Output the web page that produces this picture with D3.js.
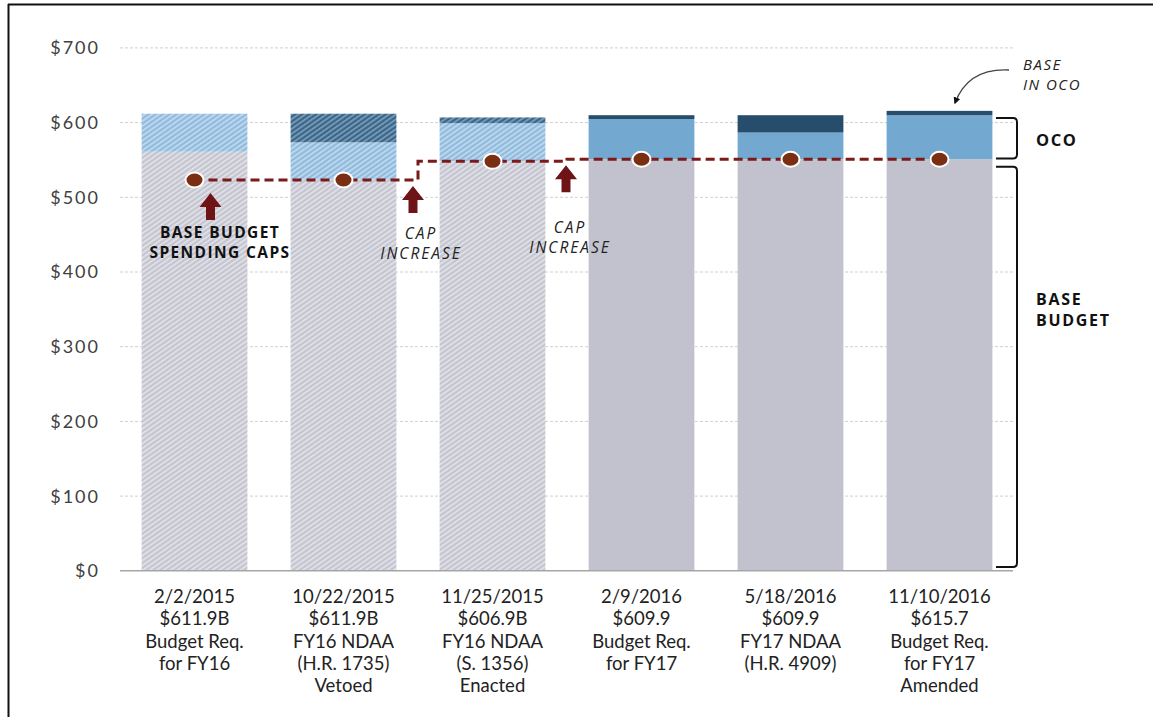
<!DOCTYPE html>
<html>
<head>
<meta charset="utf-8">
<script src="https://cdn.jsdelivr.net/npm/d3@7"></script>
<style>
  body { margin: 0; background: #fff; }
  svg { display: block; }
</style>
</head>
<body>
<div id="chart"></div>
<script>
// data (billions of dollars)
var dates = ["2/2/2015", "10/22/2015", "11/25/2015", "2/9/2016", "5/18/2016", "11/10/2016"];
var totalLabels = ["$611.9B", "$611.9B", "$606.9B", "$609.9", "$609.9", "$615.7"];
var line3 = ["Budget Req.", "FY16 NDAA", "FY16 NDAA", "Budget Req.", "FY17 NDAA", "Budget Req."];
var line4 = ["for FY16", "(H.R. 1735)", "(S. 1356)", "for FY17", "(H.R. 4909)", "for FY17"];
var line5 = ["", "Vetoed", "Enacted", "", "", "Amended"];
var baseValues = [561.0, 523.6, 548.1, 551.0, 551.0, 551.0];
var ocoValues = [50.9, 50.0, 51.1, 53.7, 35.7, 58.8];
var baseInOcoValues = [0, 38.3, 7.7, 5.2, 23.2, 5.9];
var capValues = [523.1, 523.1, 548.1, 551.0, 551.0, 551.0];
var hatched = [true, true, true, false, false, false];
var yTicks = [0, 100, 200, 300, 400, 500, 600, 700];

var W = 1153, H = 717;
var fontFam = "Lato, 'Open Sans', sans-serif";
var annFam = "'Open Sans', sans-serif";

var svg = d3.select("#chart").append("svg")
  .attr("width", W)
  .attr("height", H);

// hatch patterns
var defs = svg.append("defs");
function hatch(id, bg, fg) {
  var p = defs.append("pattern")
    .attr("id", id)
    .attr("patternUnits", "userSpaceOnUse")
    .attr("width", 4).attr("height", 4)
    .attr("patternTransform", "rotate(-35)");
  p.append("rect").attr("width", 4).attr("height", 4).attr("fill", bg);
  p.append("rect").attr("width", 4).attr("height", 1.6).attr("fill", fg);
}
hatch("hGray", "#c4c5d0", "#e4e4ea");
hatch("hBlue", "#8fbbdf", "#c6dcef");
hatch("hDark", "#3b6688", "#7fa2bf");

var solid = { base: "#c2c2ce", oco: "#73a8d0", baseInOco: "#264d6c" };
var hatchFill = { base: "url(#hGray)", oco: "url(#hBlue)", baseInOco: "url(#hDark)" };

// frame
svg.append("line").attr("x1", 8).attr("x2", W).attr("y1", 4.5).attr("y2", 4.5)
  .attr("stroke", "#111").attr("stroke-width", 2);
svg.append("line").attr("x1", 8.5).attr("x2", 8.5).attr("y1", 4).attr("y2", H)
  .attr("stroke", "#111").attr("stroke-width", 2);

var xScale = d3.scaleBand()
  .domain(d3.range(dates.length))
  .range([120, 1014])
  .paddingInner(0.29)
  .paddingOuter(0.145);
var yScale = d3.scaleLinear()
  .domain([0, 700])
  .range([570.8, 47.9]);

// gridlines
svg.append("g").selectAll("line")
  .data(yTicks.filter(function (d) { return d > 0; }))
  .join("line")
  .attr("x1", 120).attr("x2", 1013)
  .attr("y1", function (d) { return yScale(d); })
  .attr("y2", function (d) { return yScale(d); })
  .attr("stroke", "#cfcfcf")
  .attr("stroke-dasharray", "3,2");

// y labels
svg.append("g").selectAll("text")
  .data(yTicks)
  .join("text")
  .attr("x", 100)
  .attr("y", function (d) { return yScale(d); })
  .attr("dy", "0.36em")
  .attr("text-anchor", "end")
  .attr("font-family", fontFam)
  .attr("font-size", 18)
  .attr("letter-spacing", 2)
  .attr("fill", "#404040")
  .text(function (d) { return "$" + d; });

// stacked bars
var table = dates.map(function (d, i) {
  return { i: i, base: baseValues[i], oco: ocoValues[i], baseInOco: baseInOcoValues[i] };
});
var keys = ["base", "oco", "baseInOco"];
var series = d3.stack().keys(keys)(table);

svg.append("g").selectAll("g")
  .data(series)
  .join("g")
  .selectAll("rect")
  .data(function (s) { return s.map(function (p) { return { key: s.key, p: p }; }); })
  .join("rect")
  .attr("x", function (d) { return xScale(d.p.data.i); })
  .attr("width", xScale.bandwidth())
  .attr("y", function (d) { return yScale(d.p[1]); })
  .attr("height", function (d) { return yScale(d.p[0]) - yScale(d.p[1]); })
  .attr("fill", function (d) {
    return hatched[d.p.data.i] ? hatchFill[d.key] : solid[d.key];
  });

// baseline
svg.append("line")
  .attr("x1", 120).attr("x2", 1013)
  .attr("y1", yScale(0)).attr("y2", yScale(0))
  .attr("stroke", "#a6a6a6").attr("stroke-width", 1.5);

// x labels
var cx = function (i) { return xScale(i) + xScale.bandwidth() / 2; };
var xl = svg.append("g").selectAll("text")
  .data(dates.map(function (d, i) { return { i: i, lines: [d, totalLabels[i], line3[i], line4[i], line5[i]] }; }))
  .join("text")
  .attr("text-anchor", "middle")
  .attr("font-family", fontFam)
  .attr("font-size", 18.5)
  .attr("fill", "#222");
xl.selectAll("tspan")
  .data(function (d) { return d.lines.map(function (l) { return { i: d.i, l: l }; }); })
  .join("tspan")
  .attr("x", function (d) { return cx(d.i); })
  .attr("y", function (d, k) { return 603 + k * 22.3; })
  .text(function (d) { return d.l; });

// spending cap line
svg.append("path")
  .datum(capValues)
  .attr("fill", "none")
  .attr("stroke", "#7b1a1a")
  .attr("stroke-width", 3)
  .attr("stroke-dasharray", "9,5")
  .attr("d", d3.line()
    .x(function (d, i) { return cx(i); })
    .y(function (d) { return yScale(d); })
    .curve(d3.curveStep));

svg.append("g").selectAll("ellipse")
  .data(capValues)
  .join("ellipse")
  .attr("cx", function (d, i) { return cx(i); })
  .attr("cy", function (d) { return yScale(d); })
  .attr("rx", 9).attr("ry", 7.5)
  .attr("fill", "#7a2e12")
  .attr("stroke", "#fff")
  .attr("stroke-width", 2);

// up arrows
function upArrow(x, tipY) {
  svg.append("path")
    .attr("d", "M" + x + "," + tipY +
      " l11,14 h-6.5 v13 h-9 v-13 h-6.5 z")
    .attr("fill", "#6e1416");
}
upArrow(cx(0) + 16, yScale(capValues[0]) + 13);
upArrow((cx(1) + cx(2)) / 2 - 5, yScale(capValues[1]) + 6);
upArrow((cx(2) + cx(3)) / 2 - 1, yScale(capValues[2]) + 4);

// annotations
function label(x, y, lines, opts) {
  var t = svg.append("text")
    .attr("text-anchor", opts.anchor || "middle")
    .attr("font-family", opts.family || annFam)
    .attr("font-size", opts.size || 16)
    .attr("font-weight", opts.weight || "normal")
    .attr("font-style", opts.style || "normal")
    .attr("letter-spacing", opts.ls || 0)
    .attr("fill", opts.color || "#111");
  lines.forEach(function (l, k) {
    t.append("tspan").attr("x", x).attr("y", y + k * (opts.lh || 19)).text(l);
  });
}
label(220, 238, ["BASE BUDGET", "SPENDING CAPS"], { weight: "bold", size: 15.5, ls: 1.4, lh: 20 });
label(421, 239, ["CAP", "INCREASE"], { style: "italic", size: 15.5, ls: 2, lh: 20, color: "#222" });
label(570, 233, ["CAP", "INCREASE"], { style: "italic", size: 15.5, ls: 2, lh: 20, color: "#222" });
label(1023, 70, ["BASE", "IN OCO"], { anchor: "start", style: "italic", size: 15, ls: 1.5, lh: 20, color: "#222" });
label(1036, 146, ["OCO"], { anchor: "start", weight: "bold", size: 16.5, ls: 1.5 });
label(1036, 305, ["BASE", "BUDGET"], { anchor: "start", weight: "bold", size: 16, ls: 1.7, lh: 20.5 });

// curved arrow to base-in-oco
defs.append("marker")
  .attr("id", "ah")
  .attr("viewBox", "0 0 10 10")
  .attr("refX", 8).attr("refY", 5)
  .attr("markerWidth", 5).attr("markerHeight", 5)
  .attr("orient", "auto")
  .append("path").attr("d", "M0,0 L10,5 L0,10 z").attr("fill", "#111");
svg.append("path")
  .attr("d", "M1009,70 Q968,68 955,103")
  .attr("fill", "none")
  .attr("stroke", "#444")
  .attr("stroke-width", 1.4)
  .attr("marker-end", "url(#ah)");

// braces
var bx = 1017;
function brace(y0, y1) {
  svg.append("path")
    .attr("d", "M996," + y0 + " H" + (bx - 4) + " Q" + bx + "," + y0 + " " + bx + "," + (y0 + 4) +
      " V" + (y1 - 4) + " Q" + bx + "," + y1 + " " + (bx - 4) + "," + y1 + " H996")
    .attr("fill", "none")
    .attr("stroke", "#111")
    .attr("stroke-width", 2);
}
brace(yScale(606), yScale(552));
brace(yScale(541), yScale(5));
</script>
</body>
</html>
